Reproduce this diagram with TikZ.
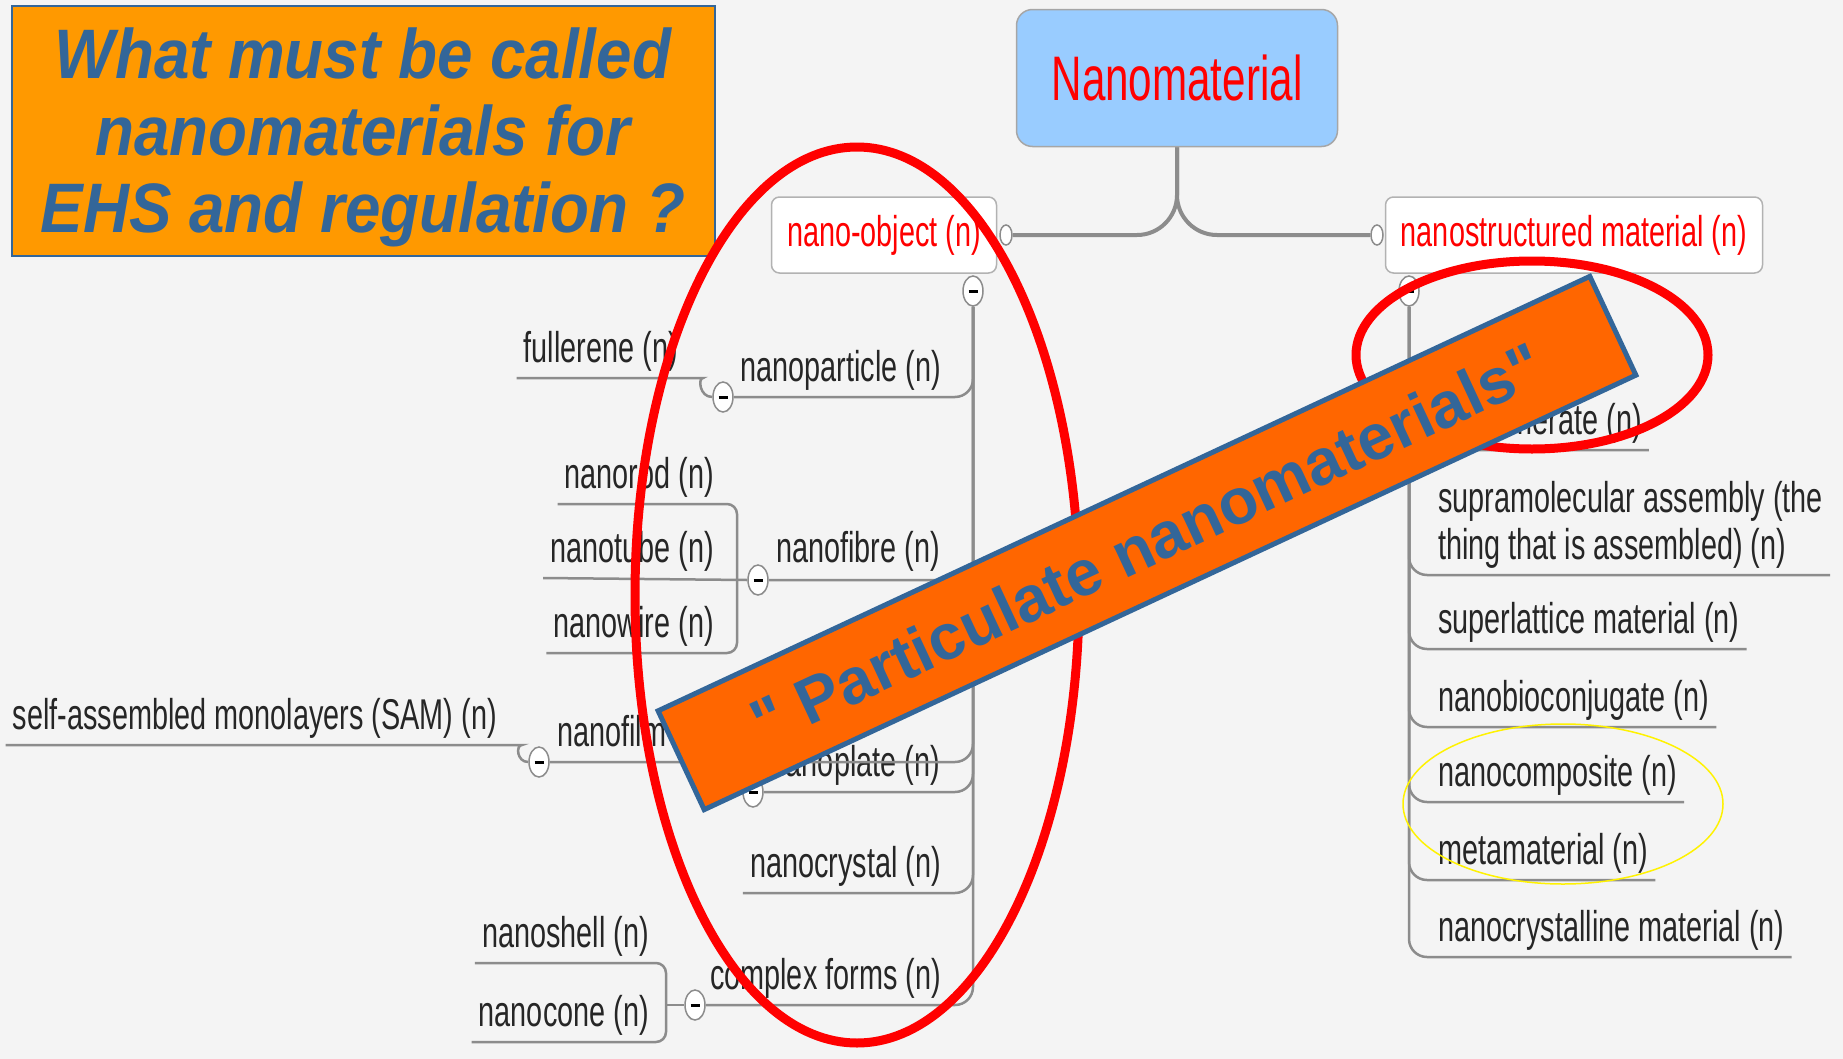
\documentclass[tikz,border=0pt]{standalone}
\usepackage{fontspec}
\usepackage{tikz}
\usetikzlibrary{shapes.geometric}
\newfontfamily\mapfont[FakeStretch=0.67]{Liberation Sans}
\newfontfamily\titlefont[FakeStretch=0.91]{Liberation Sans}
\newfontfamily\bannerfont{Liberation Sans}
\definecolor{mapgray}{HTML}{8C8C8C}
\definecolor{paper}{HTML}{F4F4F4}
\definecolor{titleorange}{HTML}{FF9900}
\definecolor{bannerorange}{HTML}{FF6600}
\definecolor{inkblue}{HTML}{336699}
\definecolor{rootblue}{HTML}{99CCFF}
\newcommand{\knobbar}{\rule[-1.5bp]{9bp}{3bp}}

\begin{document}
\begin{tikzpicture}[
  leaf/.style={font=\mapfont\fontsize{43.2pt}{47.2pt}\selectfont, text=black!85, inner xsep=7bp, inner ysep=5bp, text depth=10bp},
  branch/.style={draw=mapgray, line width=2.5bp, rounded corners=18bp},
  mainline/.style={draw=mapgray, line width=4bp, rounded corners=40bp},
  knob/.style={ellipse, draw=mapgray, fill=white, line width=1.5bp, minimum width=20bp, minimum height=30bp, inner sep=0pt},
  stub/.style={knob, minimum width=12bp, minimum height=20bp},
  topic/.style={draw=gray!60, fill=white, line width=1.5bp, rounded corners=8bp, minimum height=76bp, text=red, font=\mapfont\fontsize{43.2pt}{47.2pt}\selectfont},
  redring/.style={draw=red, line width=9bp},
  yellowring/.style={draw=yellow, line width=1.5bp}
]
\fill[paper] (0bp,0bp) rectangle (1843bp,-1059bp);
\useasboundingbox (0bp,0bp) rectangle (1843bp,-1059bp);

\node (qBox) at (363bp,-131bp)[draw=inkblue, line width=2bp, fill=titleorange, minimum width=703bp, minimum height=250bp, align=center, text=inkblue, font=\titlefont\bfseries\itshape\fontsize{70.3pt}{77.3pt}\selectfont] {\rule{0pt}{63bp}What must be called\\nanomaterials for\\EHS and regulation ?};

\node (mNano) at (1177bp,-78bp)[draw=gray!70, line width=1.5bp, fill=rootblue, rounded corners=16bp, minimum width=321bp, minimum height=137bp, text=red, font=\mapfont\fontsize{63.2pt}{70pt}\selectfont] {Nanomaterial};
\node (nObj) at (884bp,-235bp)[topic, minimum width=225bp] {nano-object (n)};
\node (nStr) at (1574bp,-235bp)[topic, minimum width=377bp] {nanostructured material (n)};
\node (tObjR) at (1006bp,-235bp)[stub] {};
\node (tStrL) at (1377bp,-235bp)[stub] {};
\draw[mainline] (mNano.south) |- (tObjR.east);
\draw[mainline] (mNano.south) |- (tStrL.west);

\node (tObj) at (973bp,-291bp)[knob] {\knobbar};
\node (tPart) at (723bp,-397bp)[knob] {\knobbar};
\node (tFib) at (758bp,-580bp)[knob] {\knobbar};
\node (tFilm) at (539bp,-762bp)[knob] {\knobbar};
\node (tPlate) at (753bp,-792bp)[knob] {\knobbar};
\node (tCplx) at (695bp,-1005bp)[knob] {\knobbar};
\coordinate (bFib) at (737bp,-578bp);
\coordinate (bCplx) at (666bp,-1005bp);

\node (lPart) at (948bp,-397bp)[leaf, anchor=south east] {nanoparticle (n)};
\node (lFull) at (685bp,-378bp)[leaf, anchor=south east] {fullerene (n)};
\node (lFib) at (947bp,-578bp)[leaf, anchor=south east] {nanofibre (n)};
\node (lRod) at (721bp,-504bp)[leaf, anchor=south east] {nanorod (n)};
\node (lTube) at (721bp,-578bp)[leaf, anchor=south east] {nanotube (n)};
\node (lWire) at (721bp,-653bp)[leaf, anchor=south east] {nanowire (n)};
\node (lFilm) at (550bp,-762bp)[leaf, anchor=south west] {nanofilm (n)};
\node (lSam) at (504bp,-745bp)[leaf, anchor=south east] {self-assembled monolayers (SAM) (n)};
\node (lPlate) at (947bp,-792bp)[leaf, anchor=south east] {nanoplate (n)};
\node (lCrys) at (948bp,-893bp)[leaf, anchor=south east] {nanocrystal (n)};
\node (lCplx) at (948bp,-1005bp)[leaf, anchor=south east] {complex forms (n)};
\node (lShell) at (656bp,-963bp)[leaf, anchor=south east] {nanoshell (n)};
\node (lCone) at (656bp,-1042bp)[leaf, anchor=south east] {nanocone (n)};

\draw[branch] (tObj.south) |- (tPart.east);
\draw[branch] (tObj.south) |- (tFib.east);
\draw[branch] (tObj.south) |- (tFilm.east);
\draw[branch] (tObj.south) |- (tPlate.east);
\draw[branch] (tObj.south) |- (lCrys.south west);
\draw[branch] (tObj.south) |- (tCplx.east);
\draw[branch] (lFull.south west) -- (lFull.south east) to[out=0,in=180] (tPart.west);
\draw[branch] (lSam.south west) -- (lSam.south east) to[out=0,in=180] (tFilm.west);
\draw[branch, rounded corners=10bp] (lRod.south west) -- (lRod.south -| bFib) -- (lWire.south -| bFib) -- (lWire.south west);
\draw[branch] (lTube.south west) -- (tFib.west);
\draw[branch, rounded corners=10bp] (lShell.south west) -- (lShell.south -| bCplx) -- (lCone.south -| bCplx) -- (lCone.south west);
\draw[branch] (bCplx) -- (tCplx.west);

\node (tStr) at (1409bp,-291bp)[knob] {\knobbar};
\node (rAgg) at (1431bp,-450bp)[leaf, anchor=south west] {agglomerate (n)};
\node (rSupra) at (1431bp,-575bp)[leaf, anchor=south west, align=left] {supramolecular assembly (the\\thing that is assembled) (n)};
\node (rLatt) at (1431bp,-649bp)[leaf, anchor=south west] {superlattice material (n)};
\node (rBio) at (1431bp,-727bp)[leaf, anchor=south west] {nanobioconjugate (n)};
\node (rComp) at (1431bp,-802bp)[leaf, anchor=south west] {nanocomposite (n)};
\node (rMeta) at (1431bp,-880bp)[leaf, anchor=south west] {metamaterial (n)};
\node (rCrys) at (1431bp,-957bp)[leaf, anchor=south west] {nanocrystalline material (n)};
\draw[branch] (tStr.south) |- (rAgg.south east);
\draw[branch] (tStr.south) |- (rSupra.south east);
\draw[branch] (tStr.south) |- (rLatt.south east);
\draw[branch] (tStr.south) |- (rBio.south east);
\draw[branch] (tStr.south) |- (rComp.south east);
\draw[branch] (tStr.south) |- (rMeta.south east);
\draw[branch] (tStr.south) |- (rCrys.south east);

\draw[redring] (857bp,-595bp) ellipse [x radius=222bp, y radius=448bp];
\draw[redring] (1532bp,-355bp) ellipse [x radius=176bp, y radius=94bp];
\draw[yellowring] (1563bp,-804bp) ellipse [x radius=160bp, y radius=80bp];

\node (pBanner) at (1147bp,-543bp)[rotate=25, draw=inkblue, line width=5bp, fill=bannerorange, minimum width=1028bp, minimum height=109bp, text=inkblue, font=\bannerfont\bfseries\fontsize{64.8pt}{70pt}\selectfont] {" Particulate nanomaterials"};
\end{tikzpicture}
\end{document}
